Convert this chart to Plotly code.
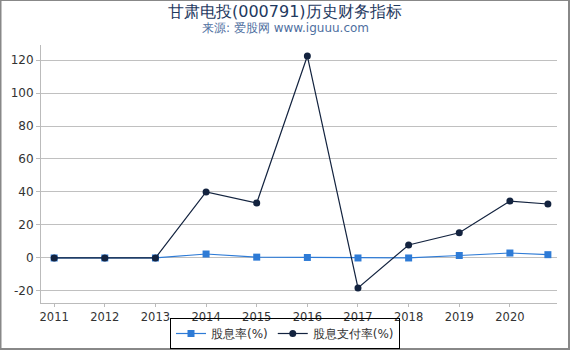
import plotly.graph_objects as go

years = [2011, 2012, 2013, 2014, 2015, 2016, 2017, 2018, 2019, 2020, 2020.75]
tick_vals = [2011, 2012, 2013, 2014, 2015, 2016, 2017, 2018, 2019, 2020]
tick_text = ["2011", "2012", "2013", "2014", "2015", "2016", "2017", "2018", "2019", "2020"]
y_tick_vals = [-20, 0, 20, 40, 60, 80, 100, 120]
y_tick_text = ["-20", "0", "20", "40", "60", "80", "100", "120"]
dividend_yield = [0, 0, 0, 2.4, 0.5, 0.3, 0, 0, 1.5, 3.0, 2.0]
payout_ratio = [0, 0, 0, 40.0, 33.3, 122.4, -18.2, 7.9, 15.3, 34.5, 32.7]

fig = go.Figure()
fig.add_trace(go.Scatter(
    x=years, y=dividend_yield, name="股息率(%)", mode="lines+markers",
    line=dict(color="#2e7bd6", width=1.2),
    marker=dict(symbol="square", size=7, color="#2e7bd6"),
))
fig.add_trace(go.Scatter(
    x=years, y=payout_ratio, name="股息支付率(%)", mode="lines+markers",
    line=dict(color="#13233f", width=1.2),
    marker=dict(symbol="circle", size=7, color="#13233f"),
))

L, R, T, B = 41, 13, 45, 47
W, H = 570, 350
pw, ph = W - L - R, H - T - B
cx = (285 - L) / pw

fig.update_layout(
    width=W, height=H,
    margin=dict(l=L, r=R, t=T, b=B, autoexpand=False),
    paper_bgcolor="white", plot_bgcolor="white",
    font=dict(family="DejaVu Sans", size=12, color="#333333"),
    showlegend=True,
    legend=dict(
        orientation="h", x=cx, xanchor="center",
        yref="container", y=1 / H, yanchor="bottom",
        bordercolor="#000000", borderwidth=1, font=dict(size=12, color="#333333"),
        itemwidth=30, tracegroupgap=0, bgcolor="rgba(255,255,255,0)",
    ),
    xaxis=dict(
        range=[2010.74, 2020.93], tickmode="array", tickvals=tick_vals, ticktext=tick_text,
        showgrid=False, zeroline=False, showline=True, linecolor="#bbbbbb", linewidth=1,
        ticks="outside", ticklen=3, tickcolor="#bbbbbb", tickfont=dict(size=11.5),
    ),
    yaxis=dict(
        range=[-27.3, 129.1], tickmode="array", tickvals=y_tick_vals, ticktext=y_tick_text,
        showgrid=True, gridcolor="#c0c0c0", gridwidth=1, zeroline=False,
        showline=True, linecolor="#bbbbbb", linewidth=1,
        ticks="outside", ticklen=4, tickcolor="#bbbbbb", tickfont=dict(size=12),
    ),
    annotations=[
        dict(text="甘肃电投(000791)历史财务指标", xref="paper", yref="paper",
             x=cx, y=1 + (T - 11) / ph, xanchor="center", yanchor="middle",
             showarrow=False, font=dict(size=16, color="#1f3a5f")),
        dict(text="来源: 爱股网 www.iguuu.com", xref="paper", yref="paper",
             x=cx, y=1 + (T - 28) / ph, xanchor="center", yanchor="middle",
             showarrow=False, font=dict(size=12, color="#4f6f9f")),
    ],
    shapes=[dict(
        type="rect", xref="paper", yref="paper",
        x0=-L / pw + 0.5 / pw, x1=1 + (R - 1) / pw,
        y0=-B / ph + 1 / ph, y1=1 + T / ph,
        line=dict(color="#888888", width=2), fillcolor="rgba(0,0,0,0)", layer="below",
    )],
)

fig.write_html("out.html")
